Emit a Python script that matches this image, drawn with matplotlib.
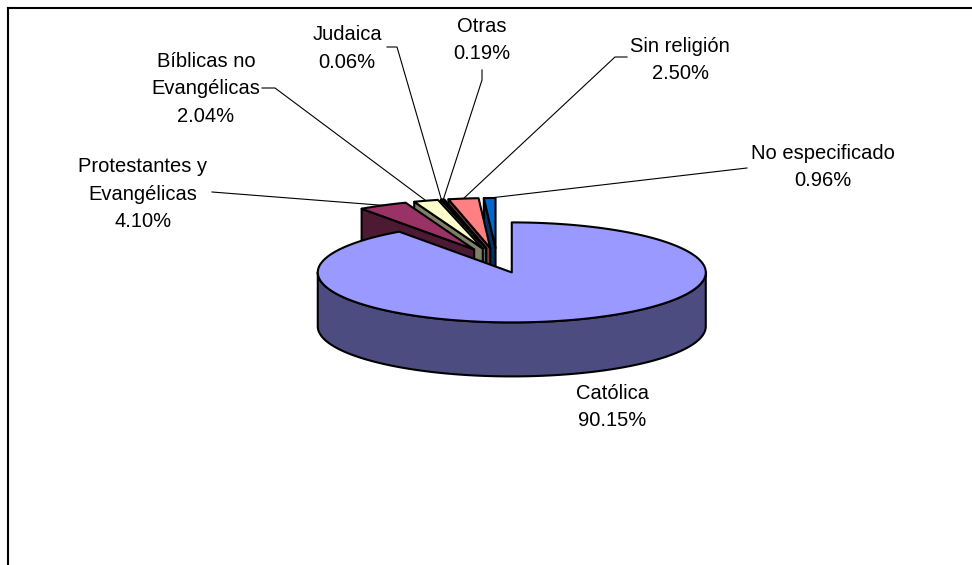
import numpy as np
import matplotlib
matplotlib.use("Agg")
import matplotlib.pyplot as plt
from matplotlib.patches import Polygon

# Religión de la población (porcentajes)
categories = ["Católica", "Protestantes y\nEvangélicas", "Bíblicas no\nEvangélicas",
              "Judaica", "Otras", "Sin religión", "No especificado"]
values = [90.15, 4.10, 2.04, 0.06, 0.19, 2.50, 0.96]

top_colors = ["#9999FF", "#993366", "#FFFFCC", "#CCFFFF", "#660066", "#FF8080", "#0066CC"]
side_colors = ["#4C4C80", "#4D1A33", "#808066", "#668080", "#330033", "#804040", "#003366"]

# label placement: (centre x, first baseline y) and leader-line anchor points
label_pos = [(612, 399), (143, 172), (206, 67), (347, 40), (482, 31.5), (680, 51.5), (823, 159)]
leader_pts = [None,
              [(212, 192)],
              [(262, 88), (275, 88)],
              [(387, 47), (397, 47)],
              [(482, 70), (482, 80)],
              [(627, 57), (615, 57)],
              [(747, 168)]]

W, H = 972, 565
fig = plt.figure(figsize=(W / 100, H / 100), dpi=100)
ax = fig.add_axes([0, 0, 1, 1])
ax.set_xlim(0, W)
ax.set_ylim(H, 0)
ax.axis("off")

# pie geometry in pixel space (ellipse projection of a tilted disc)
CX, CY = 497.0, 260.5
A, B = 194.0, 50.0
DEPTH = 54.0
EXPLODE = 0.25
EDGE_LW = 1.5


def ell(cx, cy, ang, r=1.0, z=0.0):
    t = np.radians(ang)
    return (cx + r * A * np.cos(t), cy - r * B * np.sin(t) + z)


# slice angles: start at 12 o'clock, run clockwise
angles = []
start = 90.0
for v in values:
    sweep = 360.0 * v / sum(values)
    angles.append((start, start - sweep))
    start -= sweep

centres = []
for t1, t2 in angles:
    mid = np.radians((t1 + t2) / 2)
    centres.append((CX + EXPLODE * A * np.cos(mid), CY - EXPLODE * B * np.sin(mid)))

# leader lines (drawn beneath the pie)
for i, pts in enumerate(leader_pts):
    if pts is None:
        continue
    t1, t2 = angles[i]
    mid = (t1 + t2) / 2
    end = ell(CX, CY, mid, r=1.0 + EXPLODE)
    xs = [p[0] for p in pts] + [end[0]]
    ys = [p[1] for p in pts] + [end[1]]
    ax.plot(xs, ys, color="black", lw=0.8, zorder=1)


def add_poly(pts, fc, z):
    ax.add_patch(Polygon(pts, closed=True, facecolor=fc, edgecolor="black",
                         lw=EDGE_LW, joinstyle="round", zorder=z))


order = list(range(len(values) - 1, 0, -1)) + [0]
z = 2
for i in order:
    t1, t2 = angles[i]
    cx, cy = centres[i]
    c_top = (cx, cy)
    c_bot = (cx, cy + DEPTH)
    # radial cut faces that face the viewer
    if np.cos(np.radians(t1)) < -1e-6:
        e = ell(cx, cy, t1)
        add_poly([c_top, e, (e[0], e[1] + DEPTH), c_bot], side_colors[i], z)
        z += 1
    if np.cos(np.radians(t2)) > 1e-6:
        e = ell(cx, cy, t2)
        add_poly([c_top, e, (e[0], e[1] + DEPTH), c_bot], side_colors[i], z)
        z += 1
    # curved outer wall on the front half
    for k in (-1, 0, 1):
        lo = max(t2, -180 + 360 * k)
        hi = min(t1, 0 + 360 * k)
        if hi > lo:
            ts = np.linspace(hi, lo, 200)
            top = [ell(cx, cy, t) for t in ts]
            bot = [ell(cx, cy, t, z=DEPTH) for t in ts[::-1]]
            add_poly(top + bot, side_colors[i], z)
            z += 1
    # top face
    n = max(4, int(abs(t1 - t2) * 2))
    ts = np.linspace(t1, t2, n)
    add_poly([c_top] + [ell(cx, cy, t) for t in ts], top_colors[i], z)
    z += 1

# data labels
for i, (cat, v) in enumerate(zip(categories, values)):
    x, y0 = label_pos[i]
    lines = cat.split("\n") + [f"{v:.2f}%"]
    for j, line in enumerate(lines):
        ax.text(x, y0 + j * 27.5, line, ha="center", va="baseline",
                fontsize=14.5, family="Liberation Sans", color="black", zorder=50)

# chart-area frame
ax.plot([7.5, 7.5], [H, 7.5], color="black", lw=1.5, zorder=60, solid_capstyle="projecting")
ax.plot([7.5, W], [7.5, 7.5], color="black", lw=1.5, zorder=60, solid_capstyle="projecting")

fig.savefig("out.png", dpi=100, facecolor="white")
